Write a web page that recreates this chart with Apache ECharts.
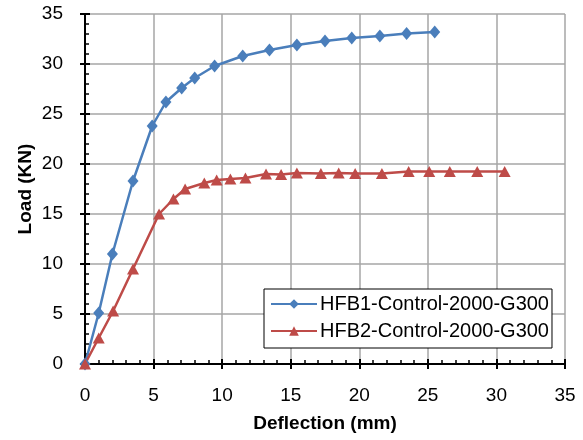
<!DOCTYPE html>
<html lang="en">
<head>
    <meta charset="utf-8">
    <title>Load - Deflection</title>
    <script src="https://cdn.jsdelivr.net/npm/echarts@6/dist/echarts.min.js"></script>
</head>
<body style="margin:0">
    <div id="main" style="width:583px;height:440px;"></div>

    <script type="text/javascript">
    // data (deflection mm, load KN)
    var hfb1Defl = [0, 1.0, 2.0, 3.5, 4.9, 5.9, 7.05, 8.0, 9.45, 11.5, 13.45, 15.45, 17.5, 19.45, 21.5, 23.45, 25.5];
    var hfb1Load = [0, 5.1, 11.0, 18.3, 23.8, 26.2, 27.6, 28.6, 29.8, 30.8, 31.4, 31.9, 32.3, 32.6, 32.8, 33.05, 33.2];

    var hfb2Defl = [0, 1.0, 2.05, 3.5, 5.4, 6.45, 7.3, 8.7, 9.6, 10.6, 11.7, 13.2, 14.3, 15.45, 17.2, 18.5, 19.7, 21.65, 23.6, 25.1, 26.6, 28.6, 30.6];
    var hfb2Load = [0, 2.6, 5.3, 9.5, 15.0, 16.5, 17.5, 18.1, 18.4, 18.5, 18.6, 19.0, 18.95, 19.1, 19.05, 19.1, 19.05, 19.05, 19.25, 19.25, 19.25, 19.25, 19.25];

    var seriesNames = ['HFB1-Control-2000-G300', 'HFB2-Control-2000-G300'];

    function pairs(xs, ys) {
        return xs.map(function (x, i) { return [x, ys[i]]; });
    }

    var font = 'Liberation Sans';
    var myChart = echarts.init(document.getElementById('main'));

    var axisLine = { show: true, onZero: false, lineStyle: { color: '#000', width: 2 } };
    var nameStyle = { fontFamily: font, fontSize: 19, fontWeight: 'bold', color: '#000' };

    myChart.setOption({
        animation: false,
        textStyle: { fontFamily: font },
        grid: { left: 85, right: 18, top: 14, bottom: 76, containLabel: false },
        legend: {
            data: seriesNames,
            orient: 'vertical',
            left: 264, top: 289,
            backgroundColor: '#fff',
            borderColor: '#000',
            borderWidth: 1,
            padding: [5, 3, 7, 6],
            itemGap: 7,
            itemWidth: 46,
            itemHeight: 12,
            textStyle: { fontFamily: font, fontSize: 20, color: '#000', padding: [0, 0, 0, -2] }
        },
        xAxis: [{
            type: 'value', min: 0, max: 35, interval: 5,
            name: 'Deflection (mm)', nameLocation: 'middle', nameGap: 50,
            nameMoveOverlap: false,
            nameTextStyle: nameStyle,
            axisLine: axisLine,
            axisTick: { show: true, inside: false, length: 5, lineStyle: { color: '#000', width: 2 } },
            axisLabel: { fontSize: 19, color: '#000', margin: 22 },
            splitLine: { show: true, lineStyle: { color: '#a6a6a6', width: 1.5 } }
        }, {
            type: 'value', min: 0, max: 35, interval: 5, position: 'bottom',
            axisLine: axisLine,
            axisTick: { show: true, inside: true, length: 5, lineStyle: { color: '#000', width: 2 } },
            minorTick: { show: true, splitNumber: 5, length: 4, lineStyle: { color: '#000', width: 1.5 } },
            axisLabel: { show: false },
            splitLine: { show: false }
        }],
        yAxis: [{
            type: 'value', min: 0, max: 35, interval: 5,
            name: 'Load (KN)', nameLocation: 'middle', nameGap: 50,
            nameMoveOverlap: false,
            nameTextStyle: nameStyle,
            axisLine: axisLine,
            axisTick: { show: true, inside: false, length: 5, lineStyle: { color: '#000', width: 2 } },
            axisLabel: { fontSize: 19, color: '#000', margin: 22 },
            splitLine: { show: true, lineStyle: { color: '#a6a6a6', width: 1.5 } }
        }, {
            type: 'value', min: 0, max: 35, interval: 5, position: 'left',
            axisLine: axisLine,
            axisTick: { show: true, inside: true, length: 5, lineStyle: { color: '#000', width: 2 } },
            minorTick: { show: true, splitNumber: 5, length: 4, lineStyle: { color: '#000', width: 1.5 } },
            axisLabel: { show: false },
            splitLine: { show: false }
        }],
        series: [{
            name: seriesNames[0],
            type: 'line',
            data: pairs(hfb1Defl, hfb1Load),
            symbol: 'diamond',
            symbolSize: [11, 13],
            showAllSymbol: true,
            lineStyle: { color: '#4a7ebb', width: 2.5 },
            itemStyle: { color: '#4a7ebb' }
        }, {
            name: seriesNames[1],
            type: 'line',
            data: pairs(hfb2Defl, hfb2Load),
            symbol: 'triangle',
            symbolSize: [12, 11],
            showAllSymbol: true,
            lineStyle: { color: '#be4b48', width: 2.5 },
            itemStyle: { color: '#be4b48' }
        }]
    });
    </script>
</body>
</html>
